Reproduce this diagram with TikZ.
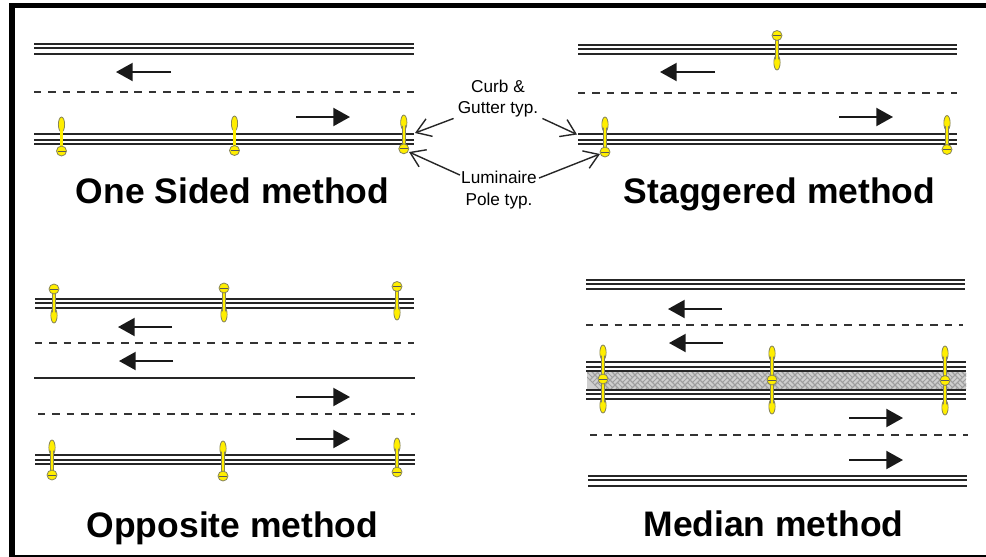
\documentclass[tikz,border=0pt]{standalone}
\usepackage{fontspec}
\setmainfont{Liberation Sans}
\usetikzlibrary{arrows.meta}
\definecolor{lampy}{HTML}{FFEE00}
\definecolor{lampo}{HTML}{85835A}
\tikzset{
  curb/.style={line width=1.3pt,black!85},
  lanedash/.style={line width=1.4pt,black!80,dash pattern=on 5.6pt off 5.16pt},
  laneline/.style={line width=1.3pt,black!85},
  flow/.style={line width=1.5pt,black!90,-{Triangle[length=12.5pt,width=13.5pt]}},
  callout/.style={line width=1.05pt,black!85,-{Straight Barb[length=10.5pt,width=14pt]}},
  title/.style={font=\bfseries\fontsize{26.6pt}{28pt}\selectfont,inner sep=0pt,anchor=base},
  note/.style={font=\fontsize{12.9pt}{16pt}\selectfont,inner sep=0pt,align=center,anchor=center},
  lampfill/.style={fill=lampy,draw=lampo,line width=0.6pt},
  weave/.style={draw=black!38,line width=0.55pt}
}
\newcommand{\triple}[5]{%
  \draw[curb] (#1,#3) -- (#2,#3);
  \draw[curb] (#1,#4) -- (#2,#4);
  \draw[curb] (#1,#5) -- (#2,#5);}
% x, tip y, ball y
\newcommand{\lampstem}[3]{%
  \pgfmathsetmacro{\mid}{#2+(#3>#2?7.5:-7.5)}
  \path[lampfill] (#1,\mid) ellipse [x radius=3.1,y radius=7.5];
  \draw[lampo,line width=2.7pt] (#1,\mid) -- (#1,#3);
  \draw[lampy,line width=1.6pt] (#1,\mid) -- (#1,#3);
  \fill[lampy] (#1,\mid) ellipse [x radius=2.6,y radius=4];}
\newcommand{\lampball}[2]{%
  \path[lampfill] (#1,#2) circle [radius=5];
  \draw[black!65,line width=0.6pt] (#1-4,#2) -- (#1+4,#2);}
\newcommand{\lamp}[3]{\lampstem{#1}{#2}{#3}\lampball{#1}{#3}}
\begin{document}
\begin{tikzpicture}[x=0.75pt,y=-0.75pt]
\useasboundingbox (0,0) rectangle (986,557);
\fill[white] (0,0) rectangle (986,557);
% frame
\fill[black] (8.5,2.5) rectangle (986,8.2);
\fill[black] (8.5,2.5) rectangle (14.5,557);
\fill[black] (14.5,555) rectangle (986,556.6);

% One sided
\triple{34}{414}{44.2}{48.2}{54.2}
\draw[lanedash] (34,92.2) -- (414,92.2);
\triple{34}{414}{134.2}{140.2}{144.2}
\draw[flow] (171,72) -- (116,72);
\draw[flow] (296,117) -- (350,117);
\lamp{61.5}{117}{151}
\lamp{234.5}{116}{150.5}
\lamp{403.8}{115}{148.8}
\node[title] (t1) at (232.5,203) {One Sided method};

% Staggered
\triple{578}{957}{45.2}{49.2}{54.2}
\draw[lanedash] (578,93.2) -- (957,93.2);
\triple{578}{957}{134.2}{140.2}{144.2}
\draw[flow] (715,72) -- (660,72);
\draw[flow] (839,117) -- (893,117);
\lamp{777}{70}{35.5}
\lamp{605}{117}{152}
\lamp{947}{115.5}{149.5}
\node[title] (t2) at (779.5,203) {Staggered method};

% Opposite
\triple{35}{414}{299.2}{303.2}{308.2}
\draw[lanedash] (35,343.2) -- (414,343.2);
\draw[laneline] (34,378.2) -- (415,378.2);
\draw[lanedash] (38,414.2) -- (415,414.2);
\triple{35}{415}{455.2}{460.2}{464.2}
\draw[flow] (172,327) -- (118,327);
\draw[flow] (173,361) -- (119,361);
\draw[flow] (296,397) -- (350,397);
\draw[flow] (296,439) -- (350,439);
\lamp{54}{323}{289}
\lamp{224}{322}{288}
\lamp{397}{320}{286.5}
\lamp{52}{440}{475}
\lamp{223}{441}{476}
\lamp{397}{438}{472}
\node[title] (t3) at (232.5,537.7) {Opposite method};

% Median
\triple{586}{965}{280.2}{284.2}{289.2}
\draw[lanedash] (586,325.2) -- (963,325.2);
\fill[black!19] (587,371) rectangle (966,390);
\begin{scope}
  \clip (587,371) rectangle (966,390);
  \foreach \r in {0,...,4} {
    \foreach \k in {0,...,38} {
      \pgfmathsetmacro{\cx}{585+\k*10+\r*5}
      \pgfmathsetmacro{\cy}{370+\r*5}
      \ifodd\r
        \draw[weave] (\cx-5,\cy) -- (\cx,\cy-5) -- (\cx+5,\cy) -- (\cx,\cy+5) -- cycle
                     (\cx-2.5,\cy-2.5) -- (\cx+2.5,\cy+2.5);
      \else
        \draw[weave] (\cx-5,\cy) -- (\cx,\cy-5) -- (\cx+5,\cy) -- (\cx,\cy+5) -- cycle
                     (\cx-2.5,\cy+2.5) -- (\cx+2.5,\cy-2.5);
      \fi
    }
  }
\end{scope}
\triple{586}{966}{362.2}{367.2}{371.2}
\triple{586}{966}{390.2}{394.2}{399.2}
\draw[lanedash] (590,435.2) -- (968,435.2);
\triple{588}{967}{476.2}{480.2}{486.2}
\draw[flow] (722,309) -- (668,309);
\draw[flow] (723,343) -- (669,343);
\draw[flow] (849,418) -- (903,418);
\draw[flow] (849,460) -- (903,460);
\lampstem{603}{345}{379}\lampstem{603}{413}{379}\lampball{603}{379}
\lampstem{772}{346}{380}\lampstem{772}{414}{380}\lampball{772}{380}
\lampstem{945}{346}{380.5}\lampstem{945}{415}{380.5}\lampball{945}{380.5}
\node[title] (t4) at (773.5,536) {Median method};

% Callouts
\node[note] (curbnote) at (498,98.5) {Curb \&\\Gutter typ.};
\node[note] (polenote) at (499,190) {Luminaire\\Pole typ.};
\coordinate (curbL) at (415,133);
\coordinate (curbR) at (577,134.5);
\coordinate (poleL) at (409,152);
\coordinate (poleR) at (600,154);
\draw[callout] (curbnote.south west) ++(-4,1) coordinate (cl) (cl) -- (curbL);
\draw[callout] (curbnote.south east) ++(4,1) coordinate (cr) (cr) -- (curbR);
\draw[callout] (polenote.north west) ++(-1,4) coordinate (pl) (pl) -- (poleL);
\draw[callout] (polenote.north east) ++(2,7) coordinate (pr) (pr) -- (poleR);
\end{tikzpicture}
\end{document}
